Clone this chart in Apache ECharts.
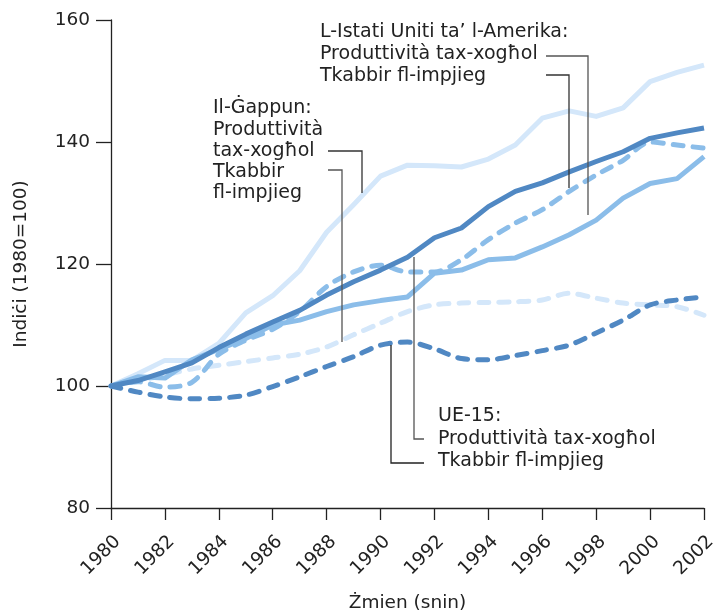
<!DOCTYPE html>
<html>
<head>
<meta charset="utf-8">
<script src="https://cdn.jsdelivr.net/npm/echarts@6/dist/echarts.min.js"></script>
<style>
  html, body { margin: 0; padding: 0; background: #fff; }
  #chart { width: 721px; height: 611px; }
</style>
</head>
<body>
<div id="chart"></div>
<script>
// snin 1980..2002
var years = [1980, 1981, 1982, 1983, 1984, 1985, 1986, 1987, 1988, 1989, 1990, 1991,
             1992, 1993, 1994, 1995, 1996, 1997, 1998, 1999, 2000, 2001, 2002];

// Il-Gappun
var jpProd = [100, 102, 104.2, 104.2, 107, 112, 114.8, 118.9, 125.2, 129.7, 134.4, 136.2,
              136.1, 135.9, 137.2, 139.5, 143.9, 145.1, 144.2, 145.6, 149.9, 151.4, 152.6];
var jpEmpl = [100, 100.8, 101.8, 102.8, 103.4, 104, 104.6, 105.2, 106.4, 108.4, 110.3, 112.2,
              113.3, 113.6, 113.7, 113.8, 114.1, 115.2, 114.4, 113.6, 113.3, 113, 111.6];
// L-Istati Uniti
var usProd = [100, 101.5, 101.3, 104.3, 106, 107.8, 110, 110.8, 112.2, 113.3, 114, 114.6,
              118.5, 119, 120.7, 121, 122.8, 124.8, 127.2, 130.8, 133.2, 134, 137.6];
var usEmpl = [100, 100.7, 99.8, 100.6, 105.2, 107.5, 109.3, 112.2, 116.3, 118.7, 119.8, 118.7,
              118.7, 120.7, 124, 126.7, 128.9, 131.9, 134.6, 137, 140, 139.5, 139];
// UE-15
var euProd = [100, 100.9, 102.3, 103.8, 106.3, 108.5, 110.5, 112.4, 114.9, 117.1, 119, 121.1,
              124.3, 125.9, 129.4, 131.9, 133.3, 135.1, 136.8, 138.4, 140.6, 141.5, 142.3];
var euEmpl = [100, 99, 98.2, 97.9, 98, 98.5, 99.9, 101.5, 103.2, 104.8, 106.7, 107.2,
              106.1, 104.5, 104.3, 105, 105.8, 106.7, 108.7, 110.8, 113.3, 114.1, 114.6];

var C_DARK = '#5088c3';
var C_MED = '#8bbde9';
var C_LIGHT = '#d4e7fa';
var FONT = '"DejaVu Sans", Verdana, sans-serif';
var AX_FS = 18.5;
var ANN_FS = 19;

function pairs(vals) {
  return years.map(function (y, i) { return [y, vals[i]]; });
}

function solid(name, vals, color) {
  return {
    name: name, type: 'line', data: pairs(vals), symbol: 'none',
    lineStyle: { color: color, width: 5, join: 'round' }
  };
}
function dashed(name, vals, color) {
  return {
    name: name, type: 'line', data: pairs(vals), symbol: 'none', smooth: 0.3,
    lineStyle: { color: color, width: 5, type: [10, 10], cap: 'round', join: 'round' }
  };
}

var chart = echarts.init(document.getElementById('chart'));

function txt(x, y, s) {
  return {
    type: 'text', x: x, y: y, z: 100,
    style: { text: s, fontSize: ANN_FS, fontFamily: FONT, fill: '#222', verticalAlign: 'middle' }
  };
}
function leader(points, color) {
  return {
    type: 'polyline', z: 100, shape: { points: points },
    style: { stroke: color || '#555', lineWidth: 1.3, fill: null }
  };
}

var option = {
  animation: false,
  backgroundColor: '#fff',
  grid: { left: 111, right: 17, top: 20, bottom: 103, containLabel: false, outerBoundsMode: 'none' },
  xAxis: {
    type: 'value', min: 1980, max: 2002, interval: 2,
    name: 'Żmien (snin)', nameLocation: 'middle', nameGap: 86,
    nameTextStyle: { fontSize: AX_FS, fontFamily: FONT, color: '#222' },
    axisLine: { lineStyle: { color: '#222', width: 1.3 } },
    axisTick: { length: 12, lineStyle: { color: '#222', width: 1.3 } },
    axisLabel: { rotate: 45, margin: 24, verticalAlign: 'top', fontSize: AX_FS, fontFamily: FONT, color: '#222',
                 formatter: function (v) { return String(v); } },
    splitLine: { show: false }
  },
  yAxis: {
    type: 'value', min: 80, max: 160, interval: 20,
    name: 'Indiċi (1980=100)', nameLocation: 'middle', nameGap: 80, nameRotate: 90,
    nameTextStyle: { fontSize: AX_FS, fontFamily: FONT, color: '#222' },
    axisLine: { show: true, lineStyle: { color: '#222', width: 1.3 } },
    axisTick: { show: true, length: 15, lineStyle: { color: '#222', width: 1.3 } },
    axisLabel: { margin: 21, fontSize: AX_FS, fontFamily: FONT, color: '#222' },
    splitLine: { show: false }
  },
  series: [
    solid('Il-Ġappun: Produttività tax-xogħol', jpProd, C_LIGHT),
    dashed('Il-Ġappun: Tkabbir fl-impjieg', jpEmpl, C_LIGHT),
    solid('L-Istati Uniti: Produttività tax-xogħol', usProd, C_MED),
    dashed('L-Istati Uniti: Tkabbir fl-impjieg', usEmpl, C_MED),
    solid('UE-15: Produttività tax-xogħol', euProd, C_DARK),
    dashed('UE-15: Tkabbir fl-impjieg', euEmpl, C_DARK)
  ],
  graphic: [
    txt(320, 32, 'L-Istati Uniti ta’ l-Amerika:'),
    txt(320, 54, 'Produttività tax-xogħol'),
    txt(320, 76, 'Tkabbir fl-impjieg'),
    leader([[546, 56], [588, 56], [588, 215]]),
    leader([[546, 75], [569, 75], [569, 188]], '#333'),

    txt(213, 108, 'Il-Ġappun:'),
    txt(213, 130, 'Produttività'),
    txt(213, 151, 'tax-xogħol'),
    txt(213, 172, 'Tkabbir'),
    txt(213, 193, 'fl-impjieg'),
    leader([[328, 151], [362, 151], [362, 193]], '#333'),
    leader([[328, 170], [342, 170], [342, 342]]),

    txt(438, 416, 'UE-15:'),
    txt(438, 439, 'Produttività tax-xogħol'),
    txt(438, 461, 'Tkabbir fl-impjieg'),
    leader([[424, 439], [414, 439], [414, 257]]),
    leader([[424, 463], [391, 463], [391, 345]], '#222')
  ]
};

chart.setOption(option);
</script>
</body>
</html>
